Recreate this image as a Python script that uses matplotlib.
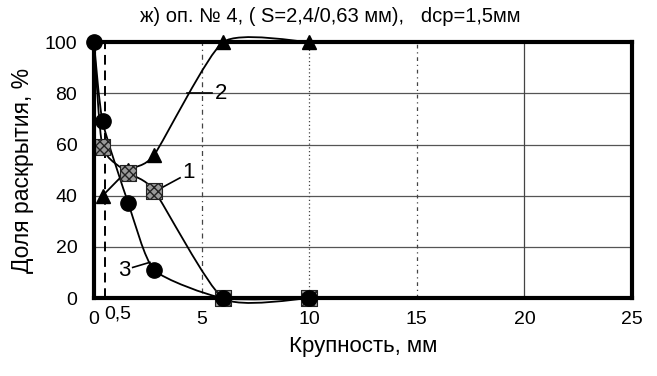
import matplotlib
matplotlib.use("Agg")
import matplotlib.pyplot as plt
from matplotlib.path import Path
from matplotlib.patches import PathPatch

plt.rcParams['font.family'] = ['Liberation Sans', 'DejaVu Sans']

# Fraction of liberation vs particle size, three size classes
size_1 = [0, 0.4, 1.6, 2.8, 6, 10]
share_1 = [100, 59, 49, 42, 0, 0]

size_2 = [0.4, 1.6, 2.8, 6, 10]
share_2 = [40, 50, 56, 100, 100]

size_3 = [0, 0.4, 1.6, 2.8, 6, 10]
share_3 = [100, 69, 37, 11, 0, 0]

x_ticks = [0, 5, 10, 15, 20, 25]
y_ticks = [0, 20, 40, 60, 80, 100]
boundary_size = 0.5

title = "ж) оп. № 4, ( S=2,4/0,63 мм),   dcp=1,5мм"
x_label = "Крупность, мм"
y_label = "Доля раскрытия, %"


def smooth_path(xs, ys, k=0.1):
    """Cubic Bezier path through the points (Catmull-Rom style smoothing)."""
    pts = list(zip(xs, ys))
    n = len(pts)
    verts = [pts[0]]
    codes = [Path.MOVETO]
    for i in range(n - 1):
        p0 = pts[i - 1] if i > 0 else pts[i]
        p1 = pts[i]
        p2 = pts[i + 1]
        p3 = pts[i + 2] if i + 2 < n else pts[i + 1]
        c1 = (p1[0] + (p2[0] - p0[0]) * k, p1[1] + (p2[1] - p0[1]) * k)
        c2 = (p2[0] - (p3[0] - p1[0]) * k, p2[1] - (p3[1] - p1[1]) * k)
        verts += [c1, c2, p2]
        codes += [Path.CURVE4] * 3
    return Path(verts, codes)


fig = plt.figure(figsize=(6.57, 3.76), dpi=100)
ax = fig.add_axes([0.143, 0.207, 0.819, 0.681])
ax.set_xlim(0, 25)
ax.set_ylim(0, 100)

# grid
for y in y_ticks[1:-1]:
    ax.axhline(y, color='#555555', lw=0.9, zorder=1)
for x, ls in zip(x_ticks[1:-1], [(0, (1, 3, 4, 3)), (0, (1, 2)), (0, (3, 3, 1, 3)), '-']):
    ax.axvline(x, color='#444444', lw=0.9, ls=ls, zorder=1)

# boundary at 0.5 mm
ax.axvline(boundary_size, color='black', lw=1.4, ls=(0, (5, 3)), zorder=2)
ax.text(boundary_size + 0.6, -6, "0,5", fontsize=14, ha='center', va='center',
        clip_on=False)

for xs, ys in [(size_1, share_1), (size_2, share_2), (size_3, share_3)]:
    ax.add_patch(PathPatch(smooth_path(xs, ys), facecolor='none',
                           edgecolor='black', lw=1.3, zorder=3, clip_on=False))

ax.plot(size_2, share_2, ls='none', marker='^', ms=10, color='black', zorder=4,
        clip_on=False)
ax.scatter(size_1[1:], share_1[1:], marker='s', s=130, facecolor='#9a9a9a',
           edgecolor='#222222', hatch='xxxx', lw=0.8, zorder=5, clip_on=False)
ax.plot(size_3, share_3, ls='none', marker='o', ms=11, color='black', zorder=6,
        clip_on=False)

# curve labels with leader lines
ax.plot([2.9, 4.0], [42, 47], color='black', lw=1.2, zorder=3)
ax.text(4.1, 49, "1", fontsize=16, ha='left', va='center')
ax.plot([4.3, 5.5], [80, 80], color='black', lw=1.2, zorder=3)
ax.text(5.6, 80, "2", fontsize=16, ha='left', va='center')
ax.plot([1.8, 2.6], [12, 14], color='black', lw=1.2, zorder=3)
ax.text(1.7, 11, "3", fontsize=16, ha='right', va='center')

ax.set_xticks(x_ticks)
ax.set_yticks(y_ticks)
ax.tick_params(axis='y', length=0, labelsize=14, pad=12)
ax.tick_params(axis='x', length=0, labelsize=14, pad=9)
for s in ax.spines.values():
    s.set_linewidth(3)
    s.set_zorder(7)

fig.text(0.502, 0.955, title, fontsize=14.5, ha='center', va='center')
ax.set_xlabel(x_label, fontsize=16, labelpad=6)
ax.set_ylabel(y_label, fontsize=16.5, labelpad=8)

fig.savefig("out.png", dpi=100)
